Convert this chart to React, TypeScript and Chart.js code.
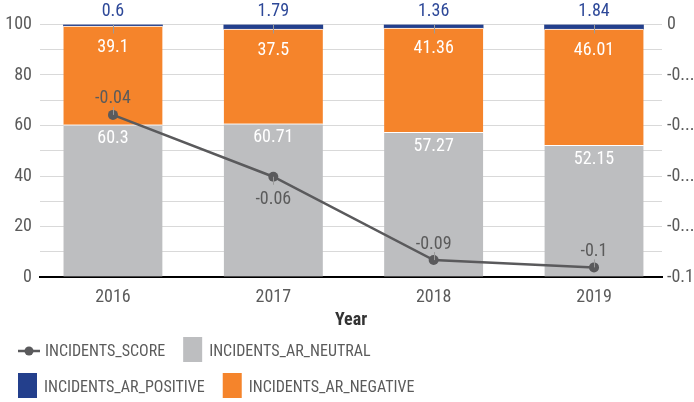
import React, { useEffect, useRef } from 'react';
import { Chart, registerables } from 'chart.js';

Chart.register(...registerables);

const years = ['2016', '2017', '2018', '2019'];
const neutral = [60.3, 60.71, 57.27, 52.15];
const negative = [39.1, 37.5, 41.36, 46.01];
const positive = [0.6, 1.79, 1.36, 1.84];
const score = [-0.0358, -0.0603, -0.0933, -0.0962];
const rightTickLabels = ['-0.1', '-0...', '-0...', '-0...', '-0...', '0'];
const seriesNames = ['INCIDENTS_SCORE', 'INCIDENTS_AR_NEUTRAL', 'INCIDENTS_AR_NEGATIVE', 'INCIDENTS_AR_POSITIVE'];

const FONT = '"Liberation Sans Narrow", "Roboto Condensed", "DejaVu Sans Condensed", sans-serif';
const C_NEUTRAL = '#bdbec0';
const C_NEGATIVE = '#f5842b';
const C_POSITIVE = '#233f8c';
const C_LINE = '#5a5a5c';
const C_TEXT = '#5b5b5b';

const fmt = (v: number) => String(Number(v.toFixed(2)));

const labelPlugin = {
  id: 'valueLabels',
  afterDatasetsDraw(chart: any) {
    const ctx = chart.ctx;
    ctx.save();
    ctx.font = `18px ${FONT}`;
    ctx.textAlign = 'center';
    ctx.textBaseline = 'middle';
    const mN = chart.getDatasetMeta(1);
    mN.data.forEach((el: any, i: number) => {
      ctx.fillStyle = '#ffffff';
      ctx.fillText(String(neutral[i]), el.x, el.y + 14);
    });
    const mG = chart.getDatasetMeta(2);
    mG.data.forEach((el: any, i: number) => {
      ctx.fillStyle = '#ffffff';
      ctx.fillText(String(negative[i]), el.x, el.y + 21);
    });
    const mP = chart.getDatasetMeta(3);
    mP.data.forEach((el: any, i: number) => {
      ctx.strokeStyle = '#9a9a9a';
      ctx.lineWidth = 1;
      ctx.beginPath();
      ctx.moveTo(Math.round(el.x) + 0.5, el.y);
      ctx.lineTo(Math.round(el.x) + 0.5, el.y + 9);
      ctx.stroke();
      ctx.fillStyle = '#2d4898';
      ctx.fillText(String(positive[i]), el.x, el.y - 13);
    });
    const mS = chart.getDatasetMeta(0);
    const below = chart.options.plugins.valueLabels.below as number[];
    mS.data.forEach((el: any, i: number) => {
      ctx.strokeStyle = '#9a9a9a';
      ctx.lineWidth = 1;
      ctx.beginPath();
      const xx = Math.round(el.x) + 0.5;
      if (below.includes(i)) {
        ctx.moveTo(xx, el.y);
        ctx.lineTo(xx, el.y + 8);
        ctx.stroke();
        ctx.fillStyle = C_TEXT;
        ctx.fillText(fmt(score[i]), el.x, el.y + 23);
      } else {
        ctx.moveTo(xx, el.y);
        ctx.lineTo(xx, el.y - 8);
        ctx.stroke();
        ctx.fillStyle = C_TEXT;
        ctx.fillText(fmt(score[i]), el.x, el.y - 16);
      }
    });
    ctx.restore();
  },
};

const legendPlugin = {
  id: 'customLegend',
  afterDraw(chart: any) {
    const ctx = chart.ctx;
    const ds = chart.data.datasets;
    const rows = [[0, 1], [3, 2]];
    const rowY = [350, 386];
    ctx.save();
    ctx.font = `16px ${FONT}`;
    ctx.textBaseline = 'middle';
    ctx.textAlign = 'left';
    rows.forEach((row, r) => {
      let x = 18;
      const cy = rowY[r];
      row.forEach((di) => {
        const d = ds[di];
        if (d.type === 'line') {
          ctx.strokeStyle = C_LINE;
          ctx.lineWidth = 2.5;
          ctx.beginPath();
          ctx.moveTo(x, cy + 1);
          ctx.lineTo(x + 22, cy + 1);
          ctx.stroke();
          ctx.fillStyle = C_LINE;
          ctx.beginPath();
          ctx.arc(x + 11, cy + 1, 4.5, 0, Math.PI * 2);
          ctx.fill();
          x += 22 + 5;
        } else {
          ctx.fillStyle = d.backgroundColor;
          ctx.fillRect(x, cy - 13, 19, 25);
          x += 19 + 7;
        }
        ctx.fillStyle = C_TEXT;
        ctx.fillText(d.label, x, cy + 1.5);
        x += ctx.measureText(d.label).width + 18;
      });
    });
    ctx.restore();
  },
};

export default function App() {
  const ref = useRef<HTMLCanvasElement | null>(null);
  useEffect(() => {
    if (!ref.current) return;
    const xs = years.map((y) => Number(y));
    const chart = new Chart(ref.current, {
      type: 'bar',
      data: {
        datasets: [
          {
            type: 'line',
            label: seriesNames[0],
            data: xs.map((x, i) => ({ x, y: score[i] })),
            yAxisID: 'y1',
            borderColor: C_LINE,
            backgroundColor: C_LINE,
            borderWidth: 2.5,
            pointRadius: 5,
            pointBorderWidth: 0,
            pointBackgroundColor: C_LINE,
            tension: 0,
            order: 0,
          } as any,
          {
            type: 'bar',
            label: seriesNames[1],
            data: xs.map((x, i) => ({ x, y: neutral[i] })),
            yAxisID: 'y',
            backgroundColor: C_NEUTRAL,
            borderColor: '#ffffff',
            borderWidth: { top: 1, left: 0, right: 0, bottom: 0 },
            borderSkipped: false,
            barThickness: 99,
            order: 1,
          },
          {
            type: 'bar',
            label: seriesNames[2],
            data: xs.map((x, i) => ({ x, y: negative[i] })),
            yAxisID: 'y',
            backgroundColor: C_NEGATIVE,
            borderColor: '#ffffff',
            borderWidth: { top: 1, left: 0, right: 0, bottom: 0 },
            borderSkipped: false,
            barThickness: 99,
            order: 1,
          },
          {
            type: 'bar',
            label: seriesNames[3],
            data: xs.map((x, i) => ({ x, y: positive[i] })),
            yAxisID: 'y',
            backgroundColor: C_POSITIVE,
            borderWidth: 0,
            barThickness: 99,
            order: 1,
          },
        ],
      },
      options: {
        responsive: false,
        animation: false,
        layout: { padding: { left: 0, top: 24.5, right: 0, bottom: 71 } },
        plugins: {
          legend: { display: false },
          tooltip: { enabled: false },
          valueLabels: { below: [1] },
        } as any,
        scales: {
          x: {
            type: 'linear',
            min: 2015.545,
            max: 2019.424,
            offset: false,
            stacked: true,
            afterFit: (s: any) => { s.height = 54; },
            grid: { display: false, drawTicks: false },
            border: { display: true, color: '#000000', width: 2 },
            ticks: {
              stepSize: 1,
              includeBounds: false,
              autoSkip: false,
              padding: 10,
              color: C_TEXT,
              font: { family: FONT, size: 18 },
              callback: (v: any) => (Number.isInteger(v) ? years[years.indexOf(String(v))] ?? '' : ''),
            },
            title: {
              display: true,
              text: 'Year',
              color: '#333333',
              font: { family: FONT, size: 18, weight: 'bold' },
              padding: { top: 2, bottom: 0 },
            },
          },
          y: {
            position: 'left',
            min: 0,
            max: 100,
            stacked: true,
            afterFit: (s: any) => { s.width = 40; },
            grid: { color: '#d9d9d9', lineWidth: 1, drawTicks: false },
            border: { display: false },
            ticks: {
              stepSize: 10,
              padding: 8,
              color: C_TEXT,
              font: { family: FONT, size: 18 },
              callback: (v: any) => (v % 20 === 0 ? String(v) : ''),
            },
          },
          y1: {
            position: 'right',
            min: -0.1,
            max: 0,
            afterFit: (s: any) => { s.width = 32; },
            grid: { display: false, drawTicks: false },
            border: { display: false },
            ticks: {
              stepSize: 0.02,
              padding: 5,
              color: C_TEXT,
              font: { family: FONT, size: 18 },
              callback: (_v: any, i: number) => rightTickLabels[i],
            },
          },
        },
      } as any,
      plugins: [labelPlugin, legendPlugin],
    });
    return () => chart.destroy();
  }, []);
  return (
    <div style={{ position: 'absolute', left: 0, top: 0, width: 694, height: 402 }}>
      <canvas ref={ref} width={694} height={402} style={{ display: 'block' }} />
    </div>
  );
}
